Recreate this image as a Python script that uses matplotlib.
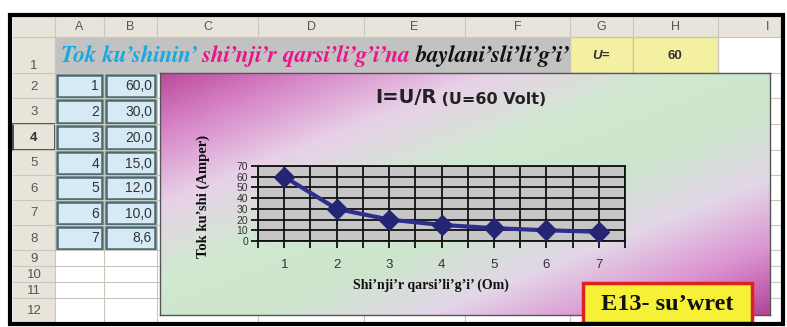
import matplotlib
matplotlib.use("Agg")
import matplotlib.pyplot as plt
from matplotlib.patches import Rectangle
from matplotlib.colors import LinearSegmentedColormap
import numpy as np

# ─── Data ─────────────────────────────────────────────────────────────────────
R_OM = [1, 2, 3, 4, 5, 6, 7]
I_AMP = [60.0, 30.0, 20.0, 15.0, 12.0, 10.0, 8.6]
U_VOLT = 60
Y_TICKS = [0, 10, 20, 30, 40, 50, 60, 70]
COLS = ["A", "B", "C", "D", "E", "F", "G", "H", "I"]
ROWS = list(range(1, 13))

TITLE_PARTS = [("Tok ku’shinin’", "#19a8e2"),
               (" shi’nji’r qarsi’li’g’i’na", "#e8168c"),
               (" baylani’sli’li’g’i’", "#111111")]

# ─── Sheet geometry (pixels) ──────────────────────────────────────────────────
W, H = 787, 327
COL_X = [55, 104, 157, 258, 364, 465, 570, 633, 718, 782]
ROW_Y = [37, 73, 98, 124, 150, 175, 200, 225, 250, 266, 282, 298, 322]

SANS = "Liberation Sans"
SERIF = "Liberation Serif"
SERIF_BI = ["FreeSerif", "DejaVu Serif"]   # has a bold italic face


def px(x0, y0, x1, y1):
    return [x0 / W, 1 - y1 / H, (x1 - x0) / W, (y1 - y0) / H]


fig = plt.figure(figsize=(W / 100, H / 100), dpi=100)
fig.patch.set_facecolor("white")
base = fig.add_axes([0, 0, 1, 1])
base.set_xlim(0, W); base.set_ylim(H, 0); base.axis("off")

# headers
hdr = "#e8e4d9"
base.add_patch(Rectangle((13, 17), 782 - 13, 20, fc=hdr, ec="none"))
base.add_patch(Rectangle((13, 37), 42, 285, fc=hdr, ec="none"))
base.add_patch(Rectangle((55, 37), 727, 285, fc="white", ec="none"))
for x in COL_X:
    base.plot([x, x], [17, 322], color="#c9c6bd", lw=0.8)
for y in ROW_Y:
    base.plot([13, 782], [y, y], color="#c9c6bd", lw=0.8)

for i, c in enumerate(COLS):
    xc = (COL_X[i] + COL_X[i + 1]) / 2
    if c == "I":
        xc = 768
    base.text(xc, 27.5, c, ha="center", va="center", fontsize=9,
              family=SANS, color="#555555")
for i, r in enumerate(ROWS):
    y0, y1 = ROW_Y[i], ROW_Y[i + 1]
    yc = 66 if r == 1 else (y0 + y1) / 2 + 1
    base.text(34, yc, str(r), ha="center", va="center", fontsize=9.5,
              family=SANS, color="#333333" if r == 4 else "#555555",
              fontweight="bold" if r == 4 else "normal")
base.add_patch(Rectangle((13, 124), 42, 26, fc="none", ec="#333333", lw=1.2))

# row 1 banner
base.add_patch(Rectangle((55, 37), 570 - 55, 36, fc="#c2c2c2", ec="none"))
for x0, x1 in [(570, 633), (633, 718)]:
    base.add_patch(Rectangle((x0, 37), x1 - x0, 36, fc="#f4f0a2",
                             ec="#8a8a70", lw=0.8))
base.text(601, 56, "U=", ha="center", va="center", fontsize=9.5, family=SANS,
          fontweight="bold", style="italic", color="#333333")
base.text(675, 56, str(U_VOLT), ha="center", va="center", fontsize=9.5,
          family=SANS, fontweight="bold", color="#333333")

prev = base.text(60, 62, TITLE_PARTS[0][0], ha="left", va="baseline",
                 fontsize=16.8, family=SERIF_BI, fontweight="bold",
                 style="italic", color=TITLE_PARTS[0][1])
for txt, col in TITLE_PARTS[1:]:
    prev = base.annotate(txt, xy=(1, 0), xycoords=prev, ha="left", va="bottom",
                         fontsize=16.8, family=SERIF_BI, fontweight="bold",
                         style="italic", color=col)

# data cells A2:B8
for i, (r, v) in enumerate(zip(R_OM, I_AMP)):
    y0, y1 = ROW_Y[i + 1], ROW_Y[i + 2]
    for (x0, x1), s in [((57, 102), str(r)),
                        ((106, 155), f"{v:.1f}".replace(".", ","))]:
        base.add_patch(Rectangle((x0, y0 + 1.5), x1 - x0, y1 - y0 - 3,
                                 fc="#d5eaf4", ec="#4d6870", lw=1.8))
        base.text(x1 - 3, (y0 + y1) / 2 + 1, s, ha="right", va="center",
                  fontsize=10, family=SANS, color="#333333")

# ─── Chart area with gradient ────────────────────────────────────────────────
cax = fig.add_axes(px(160, 73, 770, 315))
u = np.linspace(0, 1, 610)[None, :]
v = np.linspace(0, 1, 242)[:, None]
t = (u + v) / 2
cmap = LinearSegmentedColormap.from_list("bg", [
    (0.00, (0.74, 0.29, 0.62)),
    (0.12, (0.84, 0.52, 0.78)),
    (0.27, (0.91, 0.82, 0.91)),
    (0.42, (0.82, 0.91, 0.82)),
    (0.58, (0.80, 0.90, 0.80)),
    (0.72, (0.89, 0.84, 0.91)),
    (0.86, (0.86, 0.58, 0.82)),
    (1.00, (0.70, 0.27, 0.60)),
])
cax.imshow(t, cmap=cmap, aspect="auto", extent=[0, 1, 1, 0],
           interpolation="bilinear")
cax.set_xticks([]); cax.set_yticks([])
for s in cax.spines.values():
    s.set_color("#555555"); s.set_linewidth(1)

# ─── Plot area ───────────────────────────────────────────────────────────────
ax = fig.add_axes(px(258, 166, 625, 241))
ax.set_facecolor("#c6c6c6")
ax.plot(R_OM, I_AMP, "-", color="#2e2e8e", lw=3, zorder=3)
ax.plot(R_OM, I_AMP, "D", color="#252575", markersize=10.5, zorder=4)
ax.set_xlim(0.5, 7.5); ax.set_ylim(0, 70)
ax.set_xticks(R_OM)
ax.set_xticks(np.arange(0.5, 8, 1), minor=True)
ax.set_yticks(Y_TICKS)
ax.grid(which="both", axis="x", color="#111111", lw=1.3)
ax.grid(which="major", axis="y", color="#111111", lw=1.3)
ax.tick_params(axis="x", which="both", direction="out", length=5, width=1.3,
               color="#111111", pad=8, labelsize=9.5, labelcolor="#333333")
ax.tick_params(axis="y", direction="out", length=5, width=1.3,
               color="#111111", pad=2, labelsize=7.5, labelcolor="#333333")
for lab in ax.get_xticklabels() + ax.get_yticklabels():
    lab.set_family(SANS)
for s in ax.spines.values():
    s.set_color("#111111"); s.set_linewidth(1.3)

base.set_zorder(0); cax.set_zorder(1); ax.set_zorder(2)

# chart texts on an overlay
over = fig.add_axes([0, 0, 1, 1], zorder=3)
over.set_xlim(0, W); over.set_ylim(H, 0); over.axis("off")
t1 = over.text(375, 103, "I=U/R", ha="left", va="baseline", fontsize=14,
               family="DejaVu Sans", fontweight="bold", color="#222222")
over.annotate(" (U=60 Volt)", xy=(1, 0), xycoords=t1, ha="left", va="bottom",
              fontsize=11.5, family="DejaVu Sans", fontweight="bold",
              color="#222222")
over.text(203, 196, "Tok ku’shi (Amper)", rotation=90, ha="center",
          va="center", fontsize=10.5, family=SERIF, fontweight="bold",
          color="#111111")
over.text(431, 285, "Shi’nji’r qarsi’li’g’i’ (Om)", ha="center",
          va="center", fontsize=10, family=SERIF, fontweight="bold",
          color="#111111")

# caption box
over.add_patch(Rectangle((583, 283), 169, 40, fc="#f6f037", ec="#e0201e",
                         lw=2.5))
over.text(667, 304, "E13- su’wret", ha="center", va="center", fontsize=17.5,
          family=SERIF, fontweight="bold", color="#111111")

# outer frame
over.add_patch(Rectangle((10, 15), 773, 309, fc="none", ec="black", lw=3))

fig.savefig("out.png", dpi=100)
